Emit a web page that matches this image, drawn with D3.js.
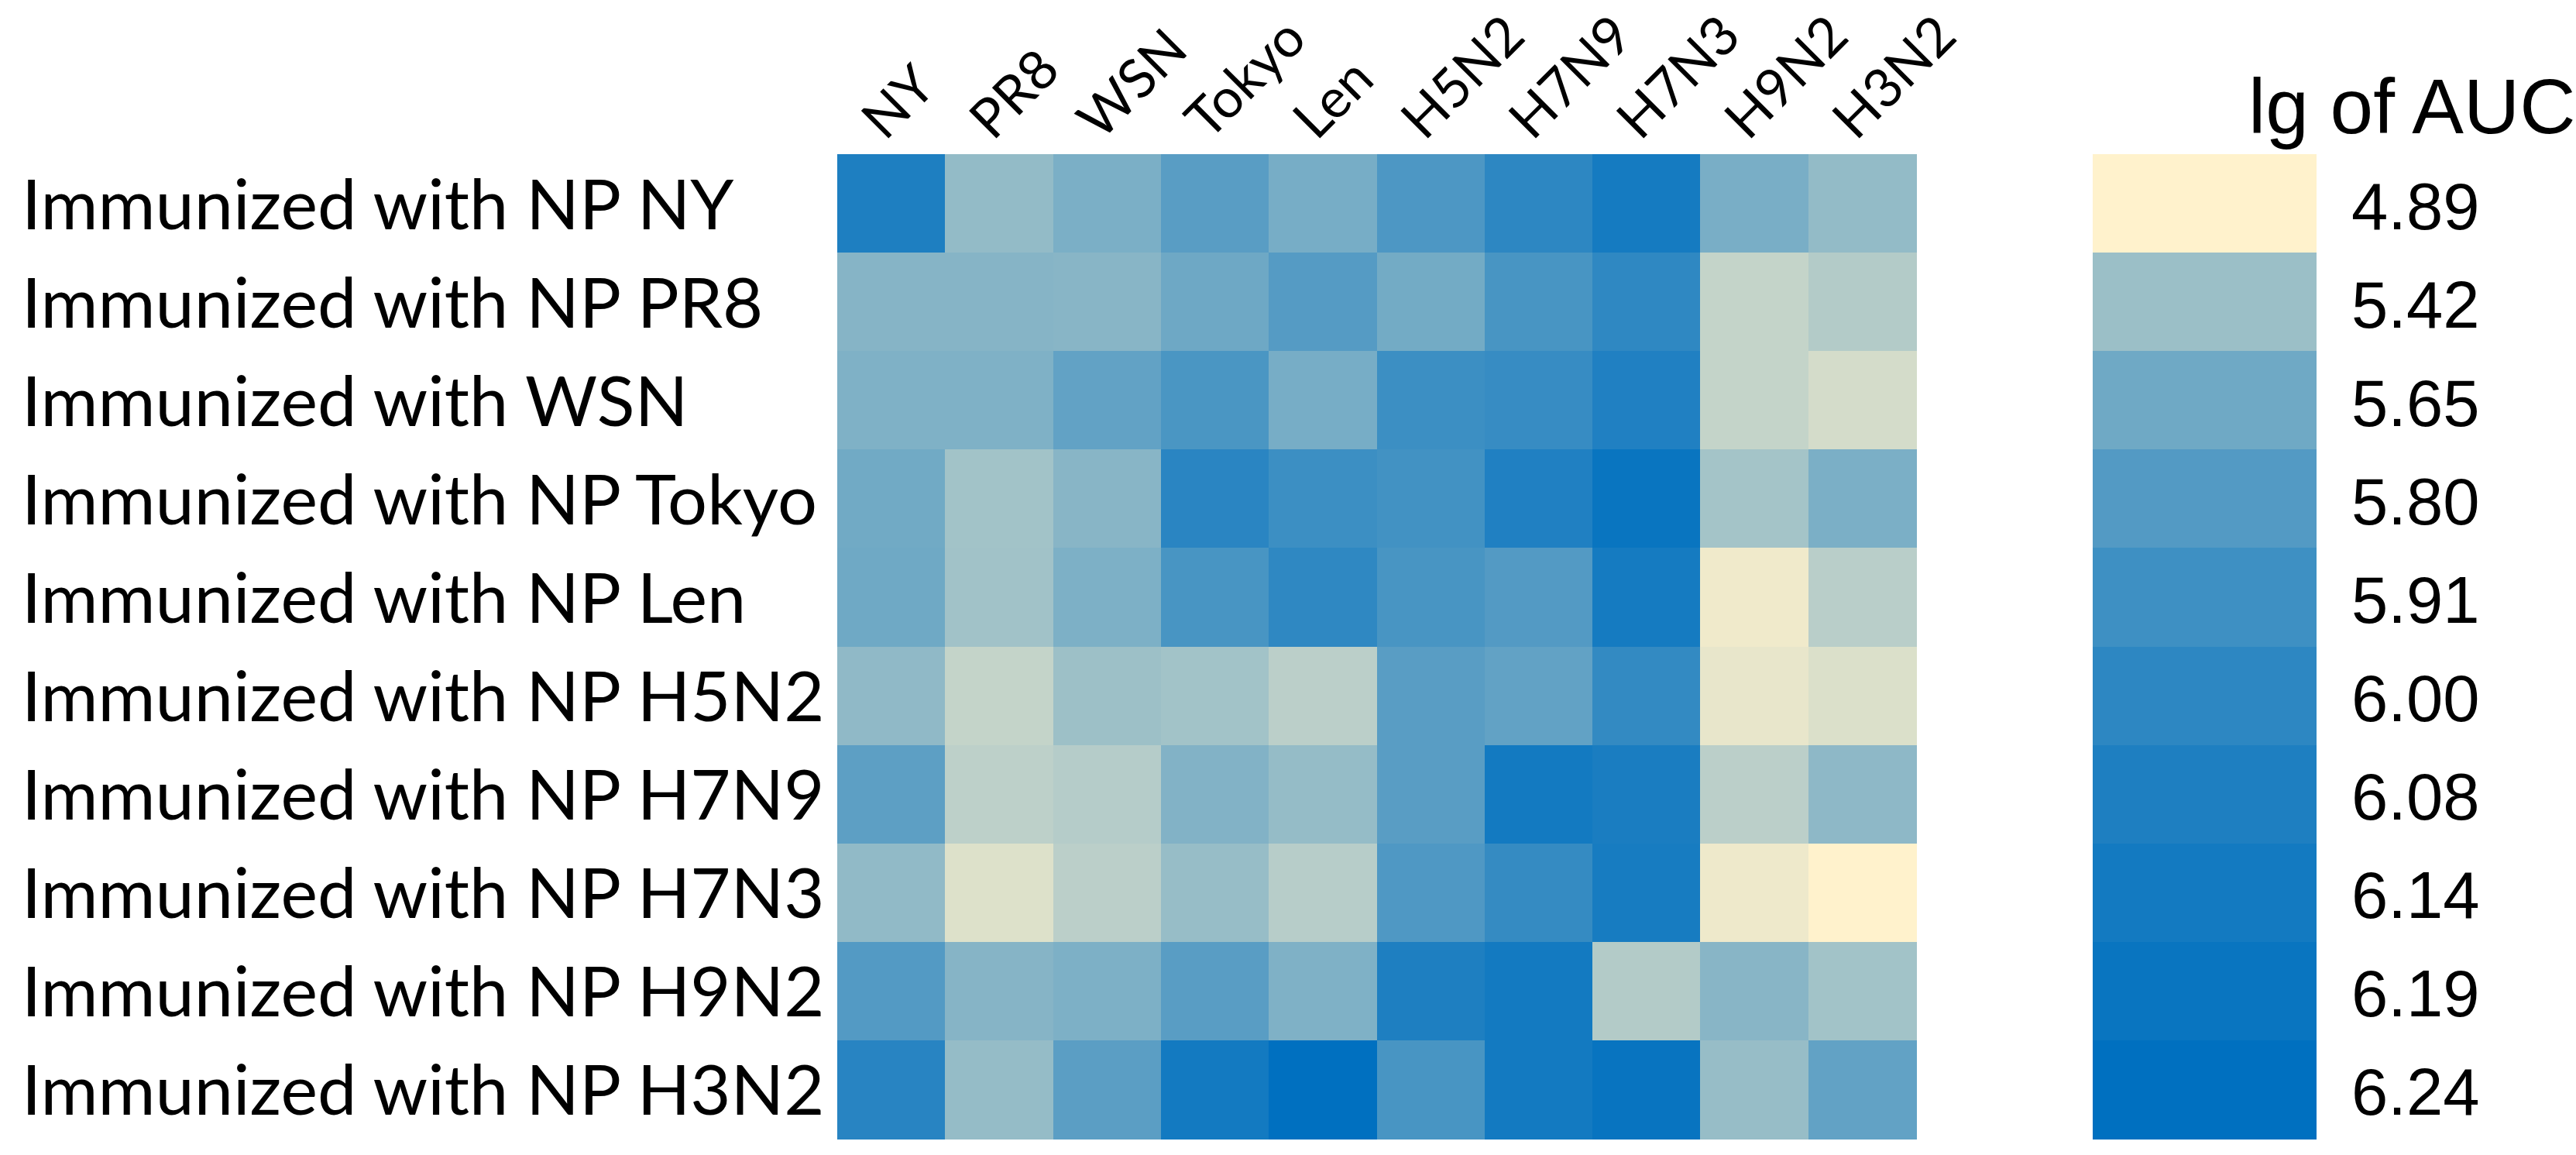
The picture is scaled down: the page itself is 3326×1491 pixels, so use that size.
<!DOCTYPE html>
<html>
<head>
<meta charset="utf-8">
<script src="https://cdn.jsdelivr.net/npm/d3@7"></script>
<style>
    body { margin: 0; background: #fff; }
    svg { display: block; }
</style>
</head>
<body>
<svg id="svg"></svg>
<script>

const viruses = ['NY', 'PR8', 'WSN', 'Tokyo', 'Len', 'H5N2', 'H7N9', 'H7N3', 'H9N2', 'H3N2'];

const groups = [
    'Immunized with NP NY',
    'Immunized with NP PR8',
    'Immunized with WSN',
    'Immunized with NP Tokyo',
    'Immunized with NP Len',
    'Immunized with NP H5N2',
    'Immunized with NP H7N9',
    'Immunized with NP H7N3',
    'Immunized with NP H9N2',
    'Immunized with NP H3N2'
];

// lg of AUC, one row per immunization group, columns follow `viruses`
const aucNY    = [6.08, 5.46, 5.59, 5.77, 5.61, 5.83, 6.00, 6.13, 5.60, 5.46];
const aucPR8   = [5.53, 5.53, 5.52, 5.66, 5.79, 5.63, 5.86, 5.99, 5.20, 5.29];
const aucWSN   = [5.57, 5.57, 5.72, 5.85, 5.61, 5.92, 5.95, 6.07, 5.20, 5.12];
const aucTokyo = [5.64, 5.38, 5.52, 6.02, 5.92, 5.89, 6.07, 6.19, 5.37, 5.59];
const aucLen   = [5.65, 5.39, 5.58, 5.86, 5.99, 5.86, 5.80, 6.13, 4.97, 5.26];
const aucH5N2  = [5.48, 5.20, 5.41, 5.38, 5.25, 5.77, 5.72, 5.97, 5.01, 5.08];
const aucH7N9  = [5.75, 5.24, 5.28, 5.55, 5.45, 5.77, 6.14, 6.10, 5.25, 5.49];
const aucH7N3  = [5.47, 5.07, 5.25, 5.44, 5.27, 5.82, 5.96, 6.12, 4.98, 4.89];
const aucH9N2  = [5.80, 5.53, 5.58, 5.77, 5.57, 6.08, 6.14, 5.29, 5.52, 5.38];
const aucH3N2  = [6.03, 5.45, 5.76, 6.14, 6.24, 5.86, 6.14, 6.20, 5.44, 5.72];

const legendValues = [4.89, 5.42, 5.65, 5.80, 5.91, 6.00, 6.08, 6.14, 6.19, 6.24];

const rows = [aucNY, aucPR8, aucWSN, aucTokyo, aucLen, aucH5N2, aucH7N9, aucH7N3, aucH9N2, aucH3N2];

const W = 3326, H = 1491;
const labelFont = 'Lato, "Open Sans", sans-serif';
const legendFont = '"Liberation Sans", Arial, sans-serif';

let svg = d3.select('#svg')
    .attr('width', W)
    .attr('height', H);

let x = d3.scaleBand()
    .domain(viruses)
    .range([1081, 2474]);

let y = d3.scaleBand()
    .domain(groups)
    .range([199, 1470]);

let color = d3.scaleLinear()
    .domain([d3.min(legendValues), d3.max(legendValues)])
    .range(['#FFF2CC', '#0070C0']);

let cells = rows.flatMap((r, i) => {
    return r.map((v, j) => {return {group: groups[i], virus: viruses[j], value: v}});
});

// heatmap
svg.append('g')
    .attr('class', 'cells')
    .selectAll('rect')
    .data(cells)
    .enter()
    .append('rect')
        .attr('x', d => x(d.virus))
        .attr('y', d => y(d.group))
        .attr('width', x.bandwidth() + 0.5)
        .attr('height', y.bandwidth() + 0.5)
        .style('fill', d => color(d.value))
        .style('shape-rendering', 'crispEdges');

// row labels
svg.append('g')
    .attr('class', 'row-labels')
    .selectAll('text')
    .data(groups)
    .enter()
    .append('text')
        .attr('x', 28)
        .attr('y', d => y(d) + y.bandwidth() / 2 + 33)
        .style('font', `90px ${labelFont}`)
        .style('fill', '#000')
        .text(d => d);

// column labels, slanted
svg.append('g')
    .attr('class', 'col-labels')
    .selectAll('text')
    .data(viruses)
    .enter()
    .append('text')
        .attr('transform', d => {return `translate(${x(d) + x.bandwidth() / 2 - 8}, 183) rotate(-45)`})
        .style('font', `70px ${labelFont}`)
        .style('fill', '#000')
        .text(d => d);

// legend
let ly = d3.scaleBand()
    .domain(legendValues)
    .range([199, 1470]);

let legend = svg.append('g')
    .attr('class', 'legend');

legend.selectAll('rect')
    .data(legendValues)
    .enter()
    .append('rect')
        .attr('x', 2702)
        .attr('y', d => ly(d))
        .attr('width', 289)
        .attr('height', ly.bandwidth() + 0.5)
        .style('fill', d => color(d))
        .style('shape-rendering', 'crispEdges');

legend.selectAll('text.value')
    .data(legendValues)
    .enter()
    .append('text')
        .attr('class', 'value')
        .attr('x', 3036)
        .attr('y', d => ly(d) + ly.bandwidth() / 2 + 33)
        .style('font', `85px ${legendFont}`)
        .style('fill', '#000')
        .text(d => d3.format('.2f')(d));

legend.append('text')
    .attr('x', 2903)
    .attr('y', 172)
    .style('font', `100px ${legendFont}`)
    .style('fill', '#000')
    .text('lg of AUC');

</script>
</body>
</html>
